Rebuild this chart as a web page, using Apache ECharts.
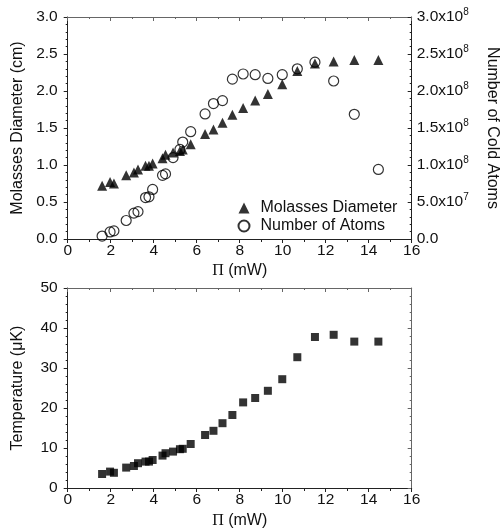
<!DOCTYPE html>
<html>
<head>
<meta charset="utf-8">
<script src="https://cdn.jsdelivr.net/npm/echarts@6/dist/echarts.min.js"></script>
<style>
html,body{margin:0;padding:0;background:#fff;}
#chart{width:501px;height:532px;}
</style>
</head>
<body>
<div id="chart"></div>
<script>
// Laser power Π (mW)
const power = [1.6, 1.97, 2.15, 2.72, 3.08, 3.27, 3.62, 3.78, 3.95, 4.41, 4.55, 4.9, 5.22, 5.35, 5.72, 6.39, 6.78, 7.2, 7.66, 8.16, 8.72, 9.31, 9.98, 10.68, 11.5, 12.37, 13.33, 14.45];
// Molasses diameter (cm)
const diameter = [0.72, 0.77, 0.75, 0.86, 0.90, 0.94, 0.99, 0.99, 1.02, 1.09, 1.14, 1.17, 1.19, 1.21, 1.28, 1.42, 1.48, 1.57, 1.68, 1.77, 1.87, 1.96, 2.09, 2.27, 2.37, 2.40, 2.42, 2.42];
// Number of cold atoms
const atoms = [4e6, 9.5e6, 1.1e7, 2.5e7, 3.5e7, 3.7e7, 5.6e7, 5.7e7, 6.7e7, 8.6e7, 8.8e7, 1.10e8, 1.21e8, 1.31e8, 1.45e8, 1.69e8, 1.83e8, 1.87e8, 2.16e8, 2.23e8, 2.22e8, 2.17e8, 2.22e8, 2.30e8, 2.39e8, 2.135e8, 1.685e8, 0.94e8];
// Temperature (μK)
const temperature = [3.5, 4.1, 3.8, 5.1, 5.5, 6.2, 6.6, 6.6, 7.0, 8.1, 8.7, 9.1, 9.7, 9.8, 11.0, 13.25, 14.3, 16.2, 18.25, 21.4, 22.5, 24.3, 27.2, 32.7, 37.75, 38.3, 36.6, 36.6];

const xTickLabels = ['0','2','4','6','8','10','12','14','16'];

const FONT = 'Liberation Sans, Arial, sans-serif';
const AX = '#222';
const TICKFS = 15.5;
const NAMEFS = 16;

function pairs(xs, ys){ return xs.map((x,i)=>[x, ys[i]]); }

function sciLabel(v){
  if (v === 0) return '0.0';
  const e = Math.floor(Math.log10(v) + 1e-9);
  const m = (v / Math.pow(10, e)).toFixed(1);
  return m + 'x10{sup|' + e + '}';
}

const baseLabel = {color:'#111', fontFamily:FONT, fontSize:TICKFS};
const nameStyle = {color:'#111', fontFamily:FONT, fontSize:NAMEFS};

function bottomX(gi, gap){
  return {
    type:'value', gridIndex:gi, min:0, max:16, interval:2, position:'bottom',
    axisLine:{show:true, onZero:false, lineStyle:{color:AX, width:1}},
    axisTick:{show:true, inside:false, length:4, lineStyle:{color:AX}},
    minorTick:{show:true, splitNumber:2, length:3, lineStyle:{color:AX}},
    splitLine:{show:false},
    axisLabel:Object.assign({}, baseLabel, {margin:4, formatter:(v)=>xTickLabels[Math.round(v/2)]}),
    name:'{pi|Π} (mW)', nameLocation:'middle', nameGap:gap,
    nameTextStyle:Object.assign({}, nameStyle, {
      rich:{pi:{fontFamily:'Liberation Serif, Times New Roman, serif', fontSize:16, color:'#111'}}
    })
  };
}
function topX(gi){
  return {
    type:'value', gridIndex:gi, min:0, max:16, interval:2, position:'top',
    axisLine:{show:true, onZero:false, lineStyle:{color:'#666', width:1}},
    axisTick:{show:true, inside:true, length:4, lineStyle:{color:'#666'}},
    minorTick:{show:true, splitNumber:2, length:2, lineStyle:{color:'#666'}},
    splitLine:{show:false}, axisLabel:{show:false}
  };
}

const option = {
  animation:false,
  backgroundColor:'#fff',
  grid:[
    {left:67.7, right:89.3, top:17, height:222, containLabel:false, outerBoundsMode:'none'},
    {left:67.7, right:89.3, top:288, height:200, containLabel:false, outerBoundsMode:'none'}
  ],
  legend:{
    left:232.5, top:195, orient:'vertical', itemGap:2, itemWidth:11, itemHeight:11,
    textStyle:{color:'#111', fontFamily:FONT, fontSize:16, lineHeight:16, padding:[0,0,0,6]},
    data:['Molasses Diameter','Number of Atoms']
  },
  xAxis:[ bottomX(0, 24), topX(0), bottomX(1, 25), topX(1) ],
  yAxis:[
    {
      type:'value', gridIndex:0, min:0, max:3, interval:0.5, position:'left',
      axisLine:{show:true, onZero:false, lineStyle:{color:AX}},
      axisTick:{show:true, inside:false, length:4, lineStyle:{color:AX}},
      minorTick:{show:true, splitNumber:5, length:2, lineStyle:{color:AX}},
      splitLine:{show:false},
      axisLabel:Object.assign({}, baseLabel, {margin:10, formatter:(v)=>v.toFixed(1)}),
      name:'Molasses Diameter (cm)', nameLocation:'middle', nameGap:42, nameTextStyle:nameStyle
    },
    {
      type:'value', gridIndex:0, min:0, max:3e8, interval:5e7, position:'right',
      axisLine:{show:true, onZero:false, lineStyle:{color:AX}},
      axisTick:{show:true, inside:true, length:4, lineStyle:{color:AX}},
      minorTick:{show:true, splitNumber:5, length:2, lineStyle:{color:AX}},
      splitLine:{show:false},
      axisLabel:Object.assign({}, baseLabel, {margin:5, formatter:sciLabel,
        rich:{sup:{fontFamily:FONT, fontSize:10, verticalAlign:'top', padding:[0,0,9,0], color:'#111'}}}),
      name:'Number of Cold Atoms', nameLocation:'middle', nameGap:73, nameRotate:-90, nameTextStyle:nameStyle
    },
    {
      type:'value', gridIndex:1, min:0, max:50, interval:10, position:'left',
      axisLine:{show:true, onZero:false, lineStyle:{color:AX}},
      axisTick:{show:true, inside:false, length:4, lineStyle:{color:AX}},
      minorTick:{show:true, splitNumber:5, length:2, lineStyle:{color:AX}},
      splitLine:{show:false},
      axisLabel:Object.assign({}, baseLabel, {margin:10}),
      name:'Temperature (μK)', nameLocation:'middle', nameGap:42, nameTextStyle:nameStyle
    },
    {
      type:'value', gridIndex:1, min:0, max:50, interval:10, position:'right',
      axisLine:{show:true, onZero:false, lineStyle:{color:'#666'}},
      axisTick:{show:true, inside:true, length:4, lineStyle:{color:'#666'}},
      minorTick:{show:true, splitNumber:5, length:2, lineStyle:{color:'#666'}},
      splitLine:{show:false}, axisLabel:{show:false}
    }
  ],
  series:[
    {
      name:'Molasses Diameter', type:'scatter', xAxisIndex:0, yAxisIndex:0,
      symbol:'triangle', symbolSize:10,
      itemStyle:{color:'#000'},
      data:pairs(power, diameter), z:3
    },
    {
      name:'Number of Atoms', type:'scatter', xAxisIndex:0, yAxisIndex:1,
      symbol:'circle', symbolSize:10,
      itemStyle:{color:'rgba(255,255,255,0)', borderColor:'#000', borderWidth:1.2},
      data:pairs(power, atoms), z:4
    },
    {
      name:'Temperature', type:'scatter', xAxisIndex:2, yAxisIndex:2,
      symbol:'rect', symbolSize:8,
      itemStyle:{color:'#000'},
      data:pairs(power, temperature)
    }
  ]
};

const chart = echarts.init(document.getElementById('chart'), null, {renderer:'canvas'});
chart.setOption(option);
</script>
</body>
</html>
